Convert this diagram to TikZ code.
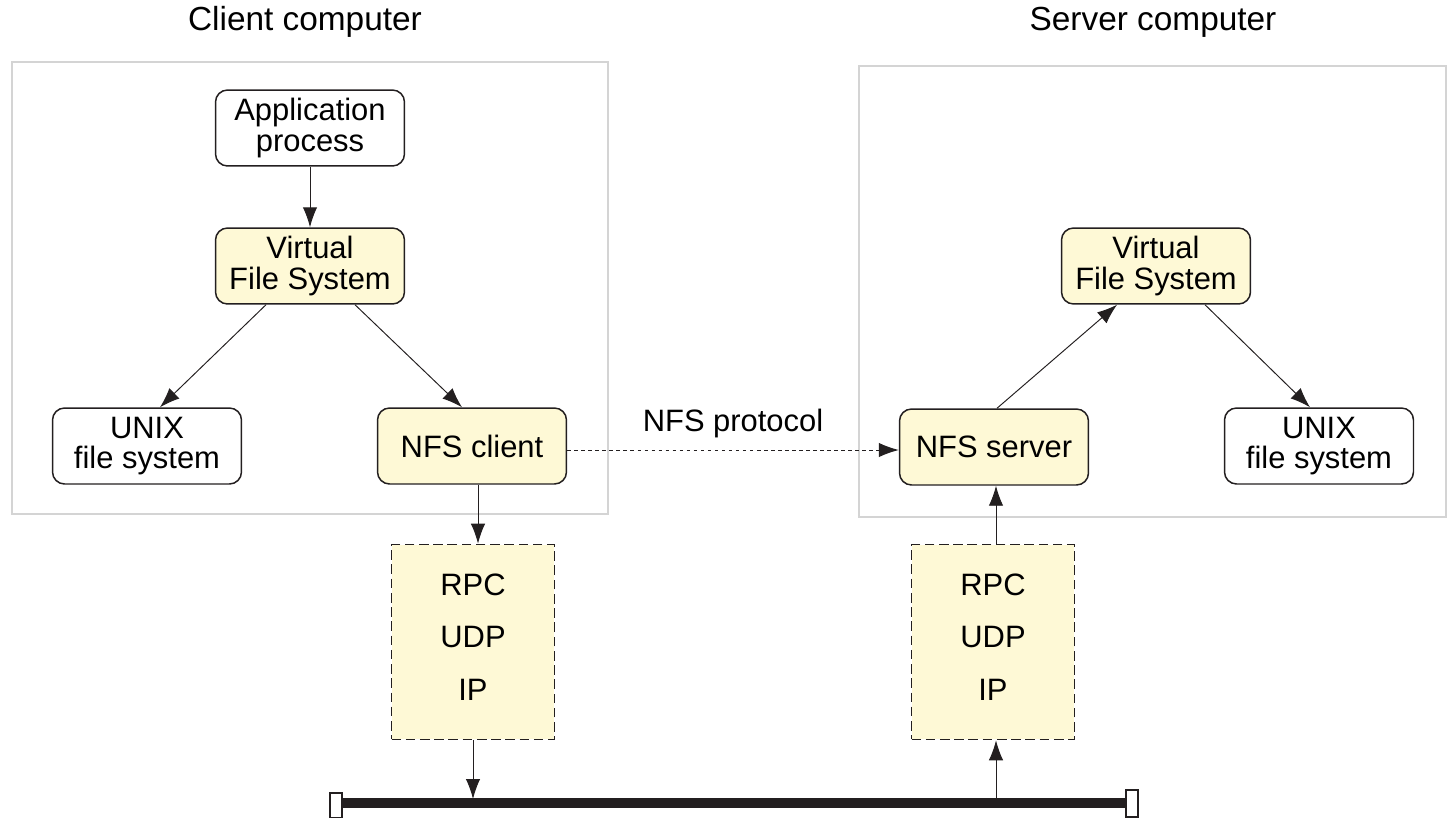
\documentclass[tikz,border=0pt]{standalone}
\usepackage{fontspec}
\setmainfont{Liberation Sans}
\usetikzlibrary{arrows.meta}
\usetikzlibrary{positioning}

\definecolor{boxfill}{HTML}{FEF9D6}
\definecolor{boxline}{HTML}{231F20}
\definecolor{frameline}{HTML}{D4D4D4}

\tikzset{
  module/.style = {
    draw = boxline, line width = 0.85pt, rounded corners = 0.24cm,
    minimum width = 3.78cm, minimum height = 1.52cm, align = center,
    inner sep = 0pt, font = \fontsize{17.6}{17.4}\selectfont,
  },
  vfsbox/.style = {module, fill = boxfill},
  layers/.style = {
    draw = boxline, fill = boxfill, dashed, dash pattern = on 5.5pt off 2.6pt,
    line width = 1pt, minimum width = 3.26cm, minimum height = 3.9cm,
    inner sep = 0pt,
  },
  layer/.style = {anchor = base, font = \fontsize{17.6}{17.4}\selectfont},
  link/.style = {draw = boxline, line width = 0.55pt,
    -{Latex[length = 0.4cm, width = 0.29cm]}},
}

\begin{document}
\begin{tikzpicture}[x = 0.02cm, y = -0.02cm]
        \useasboundingbox (0,0) rectangle (1447,818);

        % computers
        \draw[frameline, line width = 0.6pt] (12,62) rectangle (608,514);
        \draw[frameline, line width = 0.6pt] (859,66) rectangle (1446,517);
        \node[font = \fontsize{19}{19}\selectfont] (clienttitle) at (305,22) {Client computer};
        \node[font = \fontsize{19}{19}\selectfont] (servertitle) at (1153,22) {Server computer};

        % client side
        \node[module] (app)     at (310,128) {Application\\process};
        \node[vfsbox] (cvfs)    at (310,266) {Virtual\\File System};
        \node[module] (cunix)   at (147,446) {UNIX\\file system};
        \node[vfsbox] (nfsc)    at (472,446) {NFS client};

        % server side
        \node[vfsbox] (svfs)    at (1156,266) {Virtual\\File System};
        \node[vfsbox] (nfss)    at (994,447) {NFS server};
        \node[module] (sunix)   at (1319,446) {UNIX\\file system};

        % protocol stacks
        \node[layers] (cstack) at (473,642) {};
        \node[layers] (sstack) at (993,642) {};
        \foreach \s in {cstack, sstack} {
          \node[layer] (\s-rpc) at (\s.center |- 0,595) {RPC};
          \node[layer] (\s-udp) at (\s.center |- 0,647) {UDP};
          \node[layer] (\s-ip)  at (\s.center |- 0,700) {IP};
        }

        % network
        \coordinate (netl) at (336,803);
        \coordinate (netr) at (1132,803);
        \draw[boxline, line width = 5.6pt] (netl) -- (netr);
        \draw[boxline, fill = white, line width = 0.7pt] (330,793) rectangle (342,818);
        \draw[boxline, fill = white, line width = 0.7pt] (1126,790) rectangle (1138,817);
        \coordinate (cdrop) at (473,799);
        \coordinate (sdrop) at (996,799);

        \begin{scope}[link]
          \draw (app) -- (cvfs);
          \draw (cvfs.south -| 266,0) -- (cunix.north -| 160,0);
          \draw (cvfs.south -| 355,0) -- (nfsc.north -| 462,0);
          \draw (nfss.north -| 997,0) -- (svfs.south -| 1117,0);
          \draw (svfs.south -| 1205,0) -- (sunix.north -| 1310,0);

          \draw (nfsc.south -| 478,0) -- (cstack.north -| 478,0);
          \draw (cstack) -- (cdrop);
          \draw (sdrop) -- (sstack.south -| 996,0);
          \draw (sstack.north -| 996,0) -- (nfss.south -| 996,0);

          \draw[dashed, dash pattern = on 2pt off 2pt] (nfsc.east |- 0,450) -- (nfss.west |- 0,450);
        \end{scope}
        \node[font = \fontsize{17.6}{17.4}\selectfont] (proto) at (733,424) {NFS protocol};

      \end{tikzpicture}
\end{document}
